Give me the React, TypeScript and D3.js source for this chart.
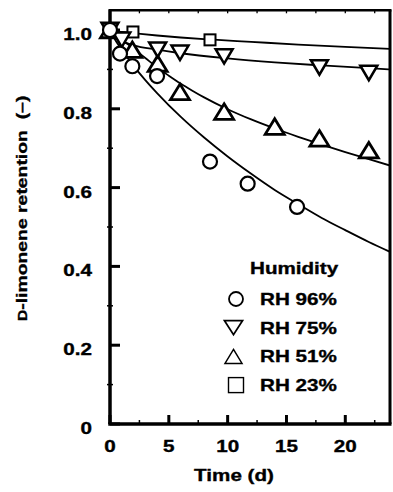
import React from "react";
import * as d3 from "d3";

// ---- data ----
const xTickValues = [0, 5, 10, 15, 20];
const yTickValues = [0, 0.2, 0.4, 0.6, 0.8, 1.0];
const yTickLabels = ["0", "0.2", "0.4", "0.6", "0.8", "1.0"];
const xMinorTicks = [0, 2.5, 5, 7.5, 10, 12.5, 15, 17.5, 20, 22.5];
const yMinorTicks = [0.1, 0.3, 0.5, 0.7, 0.9];

// measured points
const rh96T = [0, 0.85, 1.9, 4.0, 8.5, 11.7, 15.9];
const rh96Y = [1.0, 0.94, 0.908, 0.883, 0.666, 0.61, 0.551];
const rh75T = [0, 1.0, 4.05, 5.95, 9.7, 17.8, 22.0];
const rh75Y = [1.0, 0.975, 0.95, 0.942, 0.933, 0.905, 0.891];
const rh51T = [0, 1.9, 4.05, 5.95, 9.7, 14.0, 17.8, 22.0];
const rh51Y = [1.0, 0.95, 0.915, 0.843, 0.793, 0.755, 0.725, 0.695];
const rh23T = [0, 1.95, 8.5];
const rh23Y = [1.0, 0.995, 0.975];

// fitted curves
const fit96T = [0, 0.5, 1, 2, 3, 4, 6, 8, 10, 12, 14, 16, 18, 20, 22, 23.8];
const fit96Y = [1, 0.972, 0.95, 0.909, 0.873, 0.84, 0.78, 0.727, 0.679, 0.635, 0.594, 0.558, 0.523, 0.492, 0.462, 0.437];
const fit75T = [0, 0.2, 0.5, 1, 2, 4, 6, 10, 14, 18, 22, 23.8];
const fit75Y = [1, 0.984, 0.978, 0.971, 0.961, 0.95, 0.941, 0.928, 0.918, 0.91, 0.903, 0.9];
const fit51T = [0, 0.5, 1, 2, 3, 4, 5, 6, 7, 8, 10, 12, 14, 16, 18, 20, 22, 23.8];
const fit51Y = [1, 0.987, 0.976, 0.953, 0.929, 0.905, 0.884, 0.864, 0.846, 0.829, 0.799, 0.773, 0.75, 0.729, 0.709, 0.69, 0.672, 0.656];
const fit23T = [0, 0.5, 1, 2, 4, 6, 8.5, 12, 16, 20, 23.8];
const fit23Y = [1, 0.997, 0.995, 0.992, 0.986, 0.981, 0.976, 0.97, 0.963, 0.957, 0.952];

const legendLabels = ["RH 96%", "RH 75%", "RH 51%", "RH 23%"];
const legendShapes = ["circle", "down", "up", "square"];

const W = 393;
const H = 492;
const FONT = "'Liberation Sans', Arial, Helvetica, sans-serif";
const SX = 1.25;

const x = d3.scaleLinear().domain([0, 23.8]).range([110, 390]);
const y = d3.scaleLinear().domain([0, 1.05]).range([424, 10.3]);

function zip(t: number[], v: number[]) {
  return t.map((tt, i) => [tt, v[i]] as [number, number]);
}

const line = d3
  .line<[number, number]>()
  .x((d) => x(d[0]))
  .y((d) => y(d[1]))
  .curve(d3.curveMonotoneX);

function T(props: {
  x: number;
  y: number;
  size: number;
  anchor?: string;
  rotate?: number;
  children: React.ReactNode;
}) {
  const r = props.rotate ? ` rotate(${props.rotate})` : "";
  return (
    <text
      transform={`translate(${props.x},${props.y})${r} scale(${SX},1)`}
      fontFamily={FONT}
      fontWeight="bold"
      fontSize={props.size}
      textAnchor={props.anchor || "start"}
      fill="#000"
      stroke="#000"
      strokeWidth={0.35}
    >
      {props.children}
    </text>
  );
}

function Marker(props: { shape: string; cx: number; cy: number; legend?: boolean }) {
  const { shape, cx, cy, legend } = props;
  if (shape === "circle") {
    return <circle cx={cx} cy={cy} r={7} fill="#fff" stroke="#000" strokeWidth={legend ? 1.8 : 2.2} />;
  }
  if (shape === "square") {
    const s = legend ? 15 : 11;
    return (
      <rect x={cx - s / 2} y={cy - s / 2} width={s} height={s} fill="#fff" stroke="#000" strokeWidth={legend ? 1.4 : 2} />
    );
  }
  if (shape === "up") {
    const w = legend ? 17 : 19;
    const h = legend ? 14 : 15.5;
    const p = `M${cx},${cy - h / 2}L${cx + w / 2},${cy + h / 2}L${cx - w / 2},${cy + h / 2}Z`;
    return <path d={p} fill="#fff" stroke="#000" strokeWidth={legend ? 1.5 : 2.8} strokeLinejoin="miter" />;
  }
  const w = legend ? 18 : 17;
  const h = legend ? 14 : 14.5;
  const p = `M${cx - w / 2},${cy - h / 2}L${cx + w / 2},${cy - h / 2}L${cx},${cy + h / 2}Z`;
  return <path d={p} fill="#fff" stroke="#000" strokeWidth={legend ? 1.8 : 2.5} strokeLinejoin="miter" />;
}

export default function App() {
  const curves = [
    zip(fit96T, fit96Y),
    zip(fit75T, fit75Y),
    zip(fit51T, fit51Y),
    zip(fit23T, fit23Y),
  ];
  const series: { shape: string; pts: [number, number][] }[] = [
    { shape: "square", pts: zip(rh23T, rh23Y) },
    { shape: "up", pts: zip(rh51T, rh51Y) },
    { shape: "down", pts: zip(rh75T, rh75Y) },
    { shape: "circle", pts: zip(rh96T, rh96Y) },
  ];
  const x0 = x(0);
  const x1 = x(23.8);
  const yTop = y(1.05);
  const yBot = y(0);
  return (
    <svg width={W} height={H} style={{ position: "absolute", left: 0, top: 0, background: "#fff" }}>
      <rect x={0} y={0} width={W} height={H} fill="#fff" />
      <defs>
        <clipPath id="plot">
          <rect x={x0} y={yTop} width={x1 - x0} height={yBot - yTop} />
        </clipPath>
      </defs>

      {/* curves */}
      <g clipPath="url(#plot)">
        {curves.map((c, i) => (
          <path key={i} d={line(c) || ""} fill="none" stroke="#000" strokeWidth={1.8} />
        ))}
      </g>

      {/* frame */}
      <line x1={x0 - 1} x2={x1 + 1.5} y1={yTop} y2={yTop} stroke="#000" strokeWidth={2.5} />
      <line x1={x1} x2={x1} y1={yTop} y2={yBot} stroke="#000" strokeWidth={3} />
      <line x1={x0 - 1.75} x2={x1 + 1.5} y1={yBot} y2={yBot} stroke="#000" strokeWidth={3.5} />
      <line x1={x0} x2={x0} y1={yTop - 1} y2={yBot} stroke="#000" strokeWidth={3.5} />

      {/* y ticks */}
      {yTickValues.map((v) => (
        <line key={"ym" + v} x1={x0} x2={x0 + 10} y1={y(v)} y2={y(v)} stroke="#000" strokeWidth={3} />
      ))}
      {yMinorTicks.map((v) => (
        <line key={"yn" + v} x1={x0 - 3} x2={x0 + 3} y1={y(v)} y2={y(v)} stroke="#000" strokeWidth={1.5} />
      ))}
      {yTickValues.map((v, i) => (
        <T key={"yl" + v} x={92} y={y(v) + 10} size={16.5} anchor="end">
          {yTickLabels[i]}
        </T>
      ))}

      {/* x ticks */}
      {xTickValues.map((v) => (
        <line key={"xm" + v} x1={x(v)} x2={x(v)} y1={yBot} y2={yBot - 9} stroke="#000" strokeWidth={3} />
      ))}
      {xMinorTicks.map((v) => (
        <line key={"xn" + v} x1={x(v)} x2={x(v)} y1={yBot} y2={yBot - 4} stroke="#000" strokeWidth={1.5} />
      ))}
      {xMinorTicks.map((v) => (
        <line key={"xt" + v} x1={x(v)} x2={x(v)} y1={yTop} y2={yTop + 3} stroke="#000" strokeWidth={1.3} />
      ))}
      {xTickValues.map((v) => (
        <T key={"xl" + v} x={x(v)} y={452} size={16.5} anchor="middle">
          {String(v)}
        </T>
      ))}

      {/* axis titles */}
      <T x={234} y={481} size={16.5} anchor="middle">
        Time (d)
      </T>
      <T x={27} y={321} size={15.5} rotate={-90}>
        <tspan fontSize={12.5}>D</tspan>-limonene retention{"\u00a0\u00a0"}(–)
      </T>

      {/* markers */}
      {series.map((s, i) => (
        <g key={"s" + i}>
          {s.pts.map((p, j) => (
            <Marker key={j} shape={s.shape} cx={x(p[0])} cy={y(p[1])} />
          ))}
        </g>
      ))}

      {/* legend */}
      <T x={250} y={274} size={16.5}>
        Humidity
      </T>
      {legendLabels.map((lab, i) => {
        const by = 305 + i * 28.7;
        const mx = legendShapes[i] === "circle" || legendShapes[i] === "square" ? 236 : 233.5;
        return (
          <g key={"lg" + i}>
            <Marker shape={legendShapes[i]} cx={mx} cy={by - 6} legend />
            <T x={260} y={by} size={16.5}>
              {lab}
            </T>
          </g>
        );
      })}
    </svg>
  );
}
